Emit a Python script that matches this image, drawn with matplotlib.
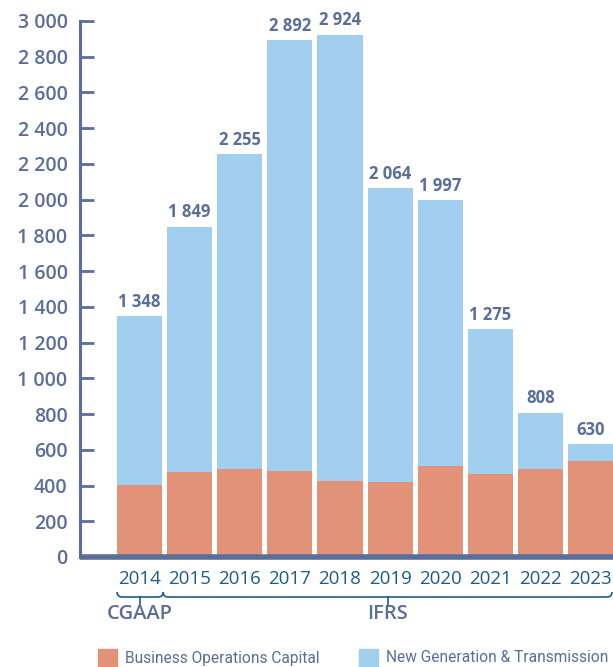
import numpy as np
import matplotlib
matplotlib.use("Agg")
import matplotlib.pyplot as plt
from matplotlib.path import Path
from matplotlib.patches import PathPatch, Rectangle
from matplotlib.transforms import blended_transform_factory

# capital spending by year, two stacked components
years = [2014, 2015, 2016, 2017, 2018, 2019, 2020, 2021, 2022, 2023]
business_ops = [405, 478, 490, 483, 428, 422, 507, 467, 490, 540]
new_gen = [943, 1371, 1765, 2409, 2496, 1642, 1490, 808, 318, 90]
y_ticks = [0, 200, 400, 600, 800, 1000, 1200, 1400, 1600, 1800,
           2000, 2200, 2400, 2600, 2800, 3000]

ORANGE = "#e3927a"
BLUE = "#a2cfef"
SLATE = "#5a6e98"
NAVY = "#1c5b8a"

plt.rcParams["font.family"] = ["Open Sans", "DejaVu Sans"]


def fmt(v):
    return f"{v:,}".replace(",", " ")


fig = plt.figure(figsize=(6.13, 6.67), dpi=100)
W, H = 613, 667
ax = fig.add_axes([80 / W, 1 - 557 / H, (613 - 80) / W, (557 - 21) / H])

x = np.array(years)
ax.bar(x, business_ops, width=0.9, color=ORANGE, zorder=2)
ax.bar(x, new_gen, width=0.9, bottom=business_ops, color=BLUE, zorder=2)

totals = [a + b for a, b in zip(business_ops, new_gen)]
for xi, t in zip(x, totals):
    ax.annotate(fmt(t), (xi, t), xytext=(0, 4), textcoords="offset points",
                ha="center", va="bottom", fontsize=12, fontweight="bold",
                color=SLATE)

ax.set_xlim(2012.81, 2023.45)
ax.set_ylim(0, 3000)
ax.set_yticks(y_ticks)
ax.set_yticklabels([fmt(v) for v in y_ticks], fontsize=14,
                   fontweight="semibold", color=SLATE)
ax.tick_params(axis="y", direction="in", length=10, width=2, color=SLATE,
               pad=9)
ax.set_xticks(x)
ax.set_xticklabels([str(y) for y in years], fontsize=13.5, color=NAVY)
ax.tick_params(axis="x", length=0, pad=9)

for s in ["top", "right"]:
    ax.spines[s].set_visible(False)
ax.spines["left"].set_color(SLATE)
ax.spines["left"].set_linewidth(2.2)
ax.spines["bottom"].set_color(SLATE)
ax.spines["bottom"].set_linewidth(4)
ax.spines["bottom"].set_capstyle("butt")

# accounting-standard braces under the year labels
tr = blended_transform_factory(ax.transData, ax.transAxes)
px = 1 / (557 - 21)
y_line = -40 * px
y_up = -35 * px
y_tick = -48 * px


def brace(x0, x1, label):
    d = 0.1
    verts = [(x0, y_up), (x0, y_line), (x0 + d, y_line),
             (x1 - d, y_line), (x1, y_line), (x1, y_up)]
    codes = [Path.MOVETO, Path.CURVE3, Path.CURVE3,
             Path.LINETO, Path.CURVE3, Path.CURVE3]
    ax.add_patch(PathPatch(Path(verts, codes), fill=False, edgecolor=NAVY,
                           lw=1.2, transform=tr, clip_on=False))
    xc = (x0 + x1) / 2
    ax.plot([xc, xc], [y_line, y_tick], color=NAVY, lw=1.2, transform=tr,
            clip_on=False)
    ax.text(xc, -57 * px, label, transform=tr, ha="center", va="center",
            fontsize=14.5, fontweight="semibold", color=SLATE)


brace(2013.55, 2014.47, "CGAAP")
brace(2014.47, 2023.43, "IFRS")

# legend
leg_items = [(98, ORANGE, "Business Operations Capital"),
             (359, BLUE, "New Generation & Transmission")]
for lx, c, name in leg_items:
    fig.patches.append(Rectangle((lx / W, 0), 19 / W, 18 / H,
                                 transform=fig.transFigure, color=c))
    fig.text((lx + 27) / W, 1 - 658 / H, name, ha="left", va="center",
             fontsize=11.2, color=SLATE, family=["Roboto", "DejaVu Sans"])

fig.savefig("out.png", dpi=100)
